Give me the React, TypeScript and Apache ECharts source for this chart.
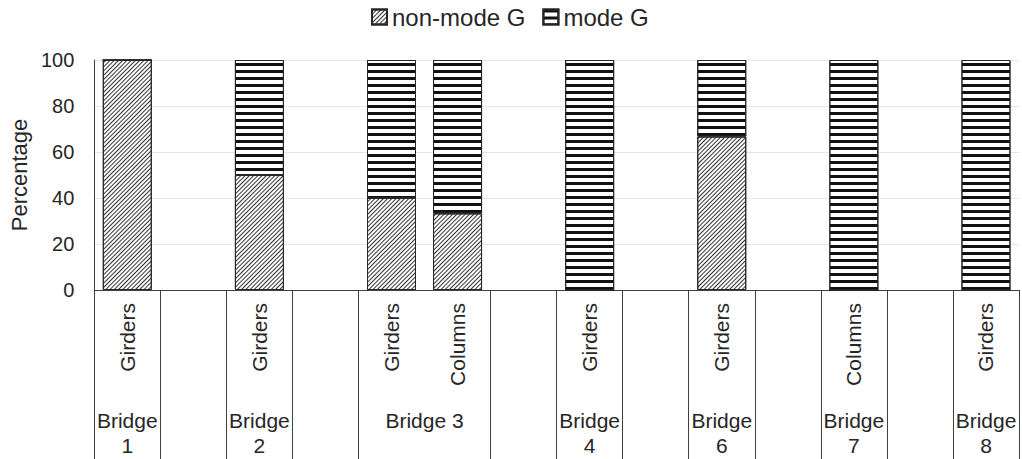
import React, { useEffect, useRef } from "react";
import * as echarts from "echarts";

// Category axis (component level) and the bridge group of each slot
const components = ["Girders", "", "Girders", "", "Girders", "Columns", "", "Girders", "", "Girders", "", "Columns", "", "Girders"];
const bridges = ["Bridge\n1", "", "Bridge\n2", "", "Bridge 3", "Bridge 3", "", "Bridge\n4", "", "Bridge\n6", "", "Bridge\n7", "", "Bridge\n8"];

// Series values (percentage)
const nonModeG = [100, null, 50, null, 40, 33.3, null, 0, null, 66.7, null, 0, null, 0];
const modeG = [0, null, 50, null, 60, 66.7, null, 100, null, 33.3, null, 100, null, 100];

// Y axis ticks
const yMin = 0;
const yMax = 100;
const yStep = 20;

const FONT = "'Liberation Sans', Arial, sans-serif";
const TEXT = "#262626";
const LINE = "#404040";

function groupLabelPoints(): string[] {
  // 2n+1 points: point k sits at k/2 categories from the left edge
  const pts: string[] = new Array(bridges.length * 2 + 1).fill("");
  let i = 0;
  while (i < bridges.length) {
    let j = i;
    while (j + 1 < bridges.length && bridges[j + 1] === bridges[i] && bridges[i] !== "") j++;
    if (bridges[i] !== "") pts[i + j + 1] = bridges[i];
    i = j + 1;
  }
  return pts;
}

export default function App() {
  const ref = useRef<HTMLDivElement>(null);
  useEffect(() => {
    if (!ref.current) return;
    const chart = echarts.init(ref.current, undefined, { renderer: "svg" });
    const groupPts = groupLabelPoints();
    chart.setOption({
      animation: false,
      backgroundColor: "#fff",
      textStyle: { fontFamily: FONT },
      legend: {
        top: 0,
        left: 366,
        icon: "rect",
        itemWidth: 15,
        itemHeight: 15,
        itemGap: 17,
        textStyle: { fontSize: 24, color: TEXT, fontFamily: FONT },
        data: ["non-mode G", "mode G"],
      },
      grid: { left: 93, top: 60, width: 928, height: 230, containLabel: false },
      xAxis: [
        {
          type: "category",
          position: "bottom",
          data: components,
          axisLine: { show: true, lineStyle: { color: LINE, width: 1 } },
          axisTick: {
            show: true,
            length: 172,
            lineStyle: { color: LINE, width: 1 },
            interval: (index: number) =>
              index === 0 || !(bridges[index] !== "" && bridges[index] === bridges[index - 1]),
          },
          axisLabel: {
            interval: 0,
            rotate: 90,
            margin: 13,
            fontSize: 21,
            color: TEXT,
            fontFamily: FONT,
          },
        },
        {
          type: "category",
          position: "bottom",
          boundaryGap: false,
          data: groupPts,
          axisLine: { show: false },
          axisTick: { show: false },
          axisLabel: {
            interval: 0,
            margin: 118,
            fontSize: 21,
            lineHeight: 25,
            color: TEXT,
            fontFamily: FONT,
          },
        },
      ],
      yAxis: {
        type: "value",
        min: yMin,
        max: yMax,
        interval: yStep,
        name: "Percentage",
        nameLocation: "middle",
        nameGap: 62,
        nameTextStyle: { fontSize: 22, color: TEXT, fontFamily: FONT },
        axisLine: { show: true, lineStyle: { color: LINE, width: 1 } },
        axisTick: { show: false },
        axisLabel: { fontSize: 20, color: TEXT, margin: 20, fontFamily: FONT },
        splitLine: { show: true, lineStyle: { color: "#e6e6e6", width: 1 } },
      },
      series: [
        {
          name: "non-mode G",
          type: "bar",
          stack: "total",
          xAxisIndex: 0,
          barWidth: 49,
          data: nonModeG,
          itemStyle: {
            color: "#ffffff",
            borderColor: "#262626",
            borderWidth: 1,
            decal: {
              symbol: "rect",
              symbolSize: 1,
              dashArrayX: [1, 0],
              dashArrayY: [1, 2],
              rotation: -Math.PI / 4,
              color: "#333",
            },
          },
        },
        {
          name: "mode G",
          type: "bar",
          stack: "total",
          xAxisIndex: 0,
          barWidth: 49,
          data: modeG,
          itemStyle: {
            color: "#ffffff",
            borderColor: "#262626",
            borderWidth: 1,
            decal: {
              symbol: "rect",
              symbolSize: 1,
              dashArrayX: [1, 0],
              dashArrayY: [3, 4],
              rotation: 0,
              color: "#111",
            },
          },
        },
      ],
    });
    return () => chart.dispose();
  }, []);
  return (
    <div
      ref={ref}
      style={{ position: "absolute", left: 0, top: 0, width: 1022, height: 459 }}
    />
  );
}
